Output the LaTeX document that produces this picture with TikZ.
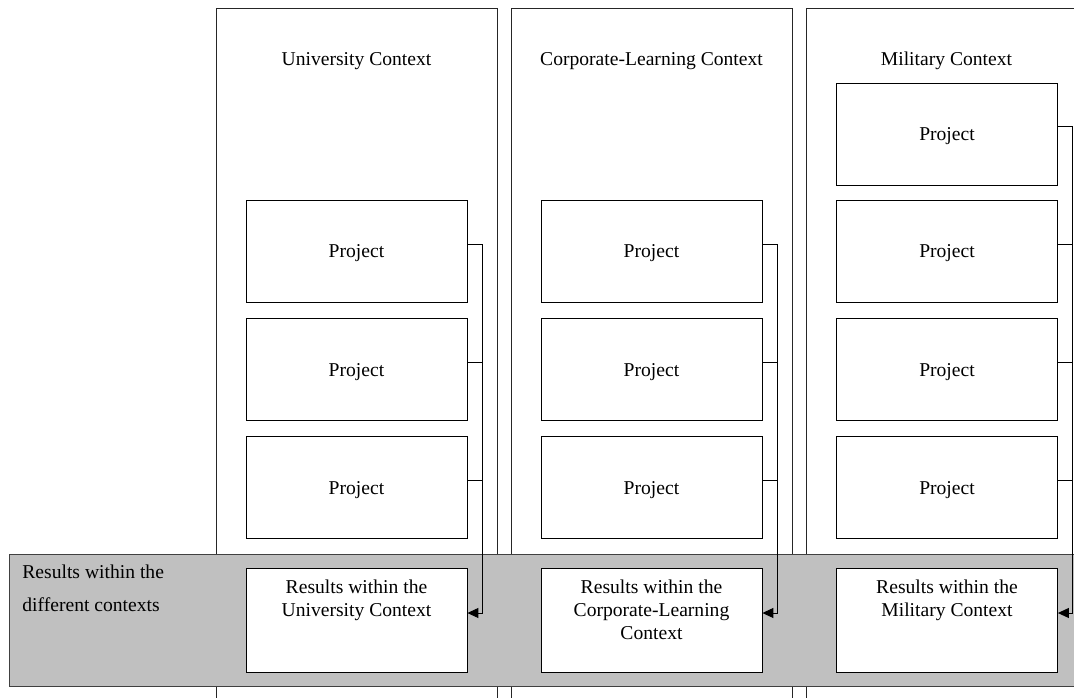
\documentclass[tikz,border=0pt]{standalone}
\usepackage{fontspec}
\setmainfont{Liberation Serif}
\usetikzlibrary{arrows.meta,calc}
\definecolor{bandgray}{RGB}{192,192,192}
\begin{document}
\begin{tikzpicture}[x=1pt,y=-1pt,
  line width=0.8pt,
  txt/.style={font=\fontsize{19.6}{23}\selectfont, inner sep=0pt},
  col/.style={draw=black!85, fill=white, minimum width=281pt, minimum height=720pt, inner sep=0pt},
  band/.style={draw=black!75, fill=bandgray, minimum width=1090pt, minimum height=132pt, inner sep=0pt},
  proj/.style={draw=black, fill=white, minimum width=221pt, minimum height=102pt, inner sep=0pt,
    font=\fontsize{19.6}{23}\selectfont, text height=13pt, text depth=0pt},
  resbox/.style={draw=black, fill=white, minimum width=221pt, minimum height=104pt, inner sep=0pt},
  conn/.style={draw=black, line width=1pt},
  arr/.style={conn, -{Triangle[length=11pt,width=10pt]}}
]
\useasboundingbox (0,0) rectangle (1074,698);
\clip (0,0) rectangle (1074,698);

% context columns
\node[col] (cu) at (356.5,368) {};
\node[col] (cc) at (651.5,368) {};
\node[col] (cm) at (946.5,368) {};
\node[txt, anchor=base] (tu) at (356.5,66) {University Context};
\node[txt, anchor=base] (tc) at (651.5,66) {Corporate-Learning Context};
\node[txt, anchor=base] (tm) at (946.5,66) {Military Context};

% results band
\node[band] (band) at (554,620) {};
\node[txt, anchor=north west, align=left, font=\fontsize{19.6}{33}\selectfont] (bl) at (22,564.6) {Results within the\\different contexts};

% projects
\node[proj] (pu1) at (356.5,251) {Project};
\node[proj] (pu2) at (356.5,369.5) {Project};
\node[proj] (pu3) at (356.5,487.5) {Project};
\node[proj] (pc1) at (651.5,251) {Project};
\node[proj] (pc2) at (651.5,369.5) {Project};
\node[proj] (pc3) at (651.5,487.5) {Project};
\node[proj] (pm0) at (947,134) {Project};
\node[proj] (pm1) at (947,251) {Project};
\node[proj] (pm2) at (947,369.5) {Project};
\node[proj] (pm3) at (947,487.5) {Project};

% results boxes
\node[resbox] (ru) at (356.5,620) {};
\node[resbox] (rc) at (651.5,620) {};
\node[resbox] (rm) at (947,620) {};
\node[txt, anchor=north, align=center] (ltu) at (356.5,579.6) {Results within the\\University Context};
\node[txt, anchor=north, align=center] (ltc) at (651.5,579.6) {Results within the\\Corporate-Learning\\Context};
\node[txt, anchor=north, align=center] (ltm) at (947,579.6) {Results within the\\Military Context};

% connectors
\draw[arr] ([yshift=7pt]pu1.east) -- ++(15,0) |- ([yshift=7pt]ru.east);
\draw[conn] ([yshift=7pt]pu2.east) -- ++(15,0);
\draw[conn] ([yshift=7pt]pu3.east) -- ++(15,0);
\draw[arr] ([yshift=7pt]pc1.east) -- ++(15,0) |- ([yshift=7pt]rc.east);
\draw[conn] ([yshift=7pt]pc2.east) -- ++(15,0);
\draw[conn] ([yshift=7pt]pc3.east) -- ++(15,0);
\draw[arr] ([yshift=7pt]pm0.east) -- ++(15,0) |- ([yshift=7pt]rm.east);
\draw[conn] ([yshift=7pt]pm1.east) -- ++(15,0);
\draw[conn] ([yshift=7pt]pm2.east) -- ++(15,0);
\draw[conn] ([yshift=7pt]pm3.east) -- ++(15,0);
\end{tikzpicture}
\end{document}
